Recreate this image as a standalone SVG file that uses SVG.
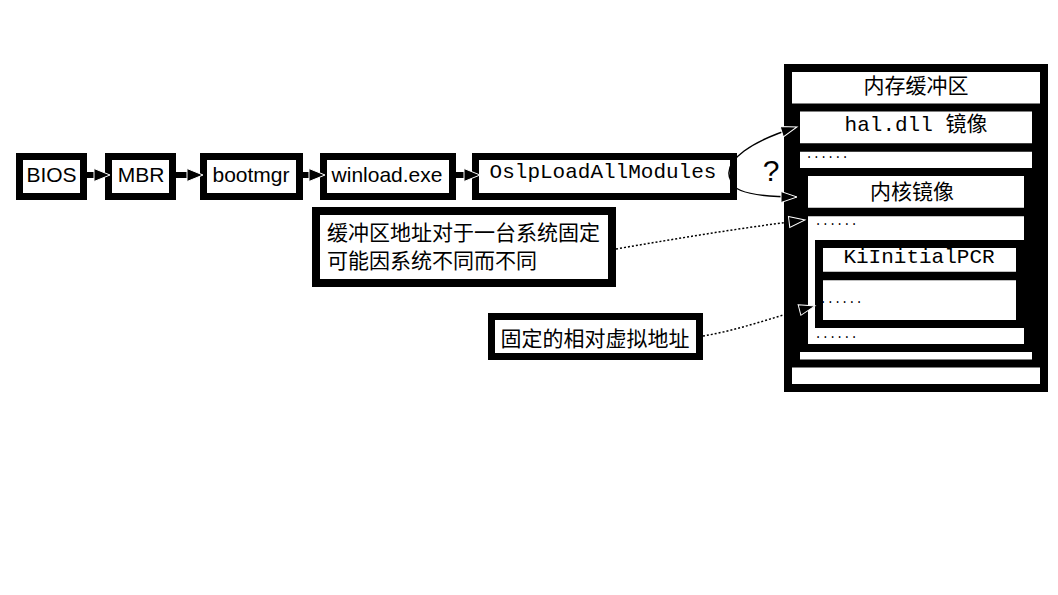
<svg xmlns="http://www.w3.org/2000/svg" width="1058" height="595" viewBox="0 0 1058 595">
<defs>
<style>
.box{fill:#fff;stroke:#000;stroke-width:7}
.nest{fill:#fff;stroke:#000;stroke-width:8}
.band{stroke:#000;stroke-width:8.5}
.lbl{font-family:"Liberation Sans","Noto Sans CJK SC",sans-serif;font-size:21px;fill:#000}
.mono{font-family:"Liberation Mono","Noto Sans CJK SC",monospace;font-size:21px;fill:#000}
.cjk{font-family:"Noto Sans CJK SC",sans-serif;font-size:21px;fill:#000}
.dots{font-family:"Liberation Mono",monospace;font-size:12px;fill:#000}
.thick{fill:none;stroke:#000;stroke-width:6}
.curve{fill:none;stroke:#000;stroke-width:1.5}
.dotted{fill:none;stroke:#000;stroke-width:1.5;stroke-dasharray:2 2}
</style>
<marker id="ah" markerUnits="userSpaceOnUse" markerWidth="18" markerHeight="15" refX="6" refY="6.5" orient="auto" overflow="visible">
<path d="M0,0 L16,6.5 L0,13 z" fill="#000" stroke="#fff" stroke-width="1"/>
</marker>
<marker id="ahs" markerUnits="userSpaceOnUse" markerWidth="18" markerHeight="13" refX="16" refY="5.5" orient="auto" overflow="visible">
<path d="M0,0 L16,5.5 L0,11 z" fill="#000" stroke="#fff" stroke-width="1"/>
</marker>
</defs>
<rect width="1058" height="595" fill="#fff"/>

<g id="bios"><rect class="box" x="19.5" y="156.5" width="64" height="40"/><text class="lbl" x="51.5" y="182" text-anchor="middle">BIOS</text></g>
<g id="mbr"><rect class="box" x="108.5" y="156.5" width="64" height="40"/><text class="lbl" x="141" y="182" text-anchor="middle">MBR</text></g>
<g id="bootmgr"><rect class="box" x="203.5" y="156.5" width="96" height="40"/><text class="lbl" x="251" y="182" text-anchor="middle">bootmgr</text></g>
<g id="winload"><rect class="box" x="323.5" y="156.5" width="129" height="40"/><text class="lbl" x="387" y="182" text-anchor="middle">winload.exe</text></g>
<g id="oslp"><rect class="box" x="475.5" y="156.5" width="258" height="40"/><text class="mono" x="603" y="178" text-anchor="middle">OslpLoadAllModules</text></g>

<g id="note-buffer-addr"><rect class="nest" x="316" y="211" width="296" height="72"/>
<text class="cjk" x="327" y="240">缓冲区地址对于一台系统固定</text>
<text class="cjk" x="327" y="268">可能因系统不同而不同</text></g>

<g id="note-rva"><rect class="box" x="491.5" y="316.5" width="208" height="40"/>
<text class="cjk" x="595" y="346" text-anchor="middle">固定的相对虚拟地址</text></g>

<g id="memory-buffer"><rect class="nest" x="788" y="68" width="256" height="320"/>
<text class="cjk" x="916" y="93" text-anchor="middle">内存缓冲区</text></g>

<g id="hal-image"><rect class="nest" x="796" y="107.5" width="240" height="256"/>
<line class="band" x1="800" y1="147.5" x2="1032" y2="147.5"/>
<text class="mono" x="916" y="131" text-anchor="middle">hal.dll 镜像</text>
<text class="dots" x="805.5" y="158">......</text></g>

<g id="kernel-image"><rect class="nest" x="804" y="172" width="224" height="176"/>
<line class="band" x1="808" y1="212" x2="1024" y2="212"/>
<text class="cjk" x="912" y="199" text-anchor="middle">内核镜像</text>
<text class="dots" x="814.5" y="225">......</text>
<text class="dots" x="814.5" y="338">......</text></g>

<g id="kipcr"><rect class="nest" x="819" y="244" width="201" height="80"/>
<line class="band" x1="823" y1="276" x2="1016" y2="276"/>
<text class="mono" x="919" y="263" text-anchor="middle">KiInitialPCR</text>
<text class="dots" x="819.5" y="303">......</text></g>

<g id="connectors">
<line class="thick" x1="87" y1="175" x2="100" y2="175" marker-end="url(#ah)"/>
<line class="thick" x1="176" y1="175" x2="193" y2="175" marker-end="url(#ah)"/>
<line class="thick" x1="303" y1="175" x2="315" y2="175" marker-end="url(#ah)"/>
<line class="thick" x1="456" y1="175" x2="470" y2="175" marker-end="url(#ah)"/>
<path class="curve" d="M731,181 C720,160 755,140 797,127" marker-end="url(#ahs)"/>
<path class="curve" d="M731,181 C733,193 760,197 797,197" marker-end="url(#ahs)"/>
<text class="lbl" x="771" y="181" text-anchor="middle" style="font-size:30px">?</text>
<path class="dotted" d="M616,249 C680,238 740,228 805,220" marker-end="url(#ahs)"/>
<path class="dotted" d="M703,336 C740,330 780,315 815,306" marker-end="url(#ahs)"/>
</g>
</svg>
